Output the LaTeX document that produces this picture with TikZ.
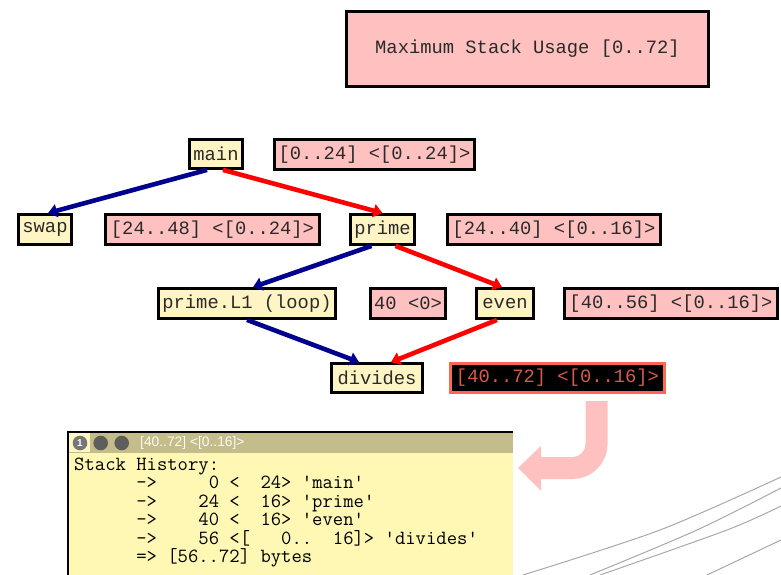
\documentclass[tikz,border=0pt]{standalone}
\usepackage{fontspec}
\newfontfamily\boxfont{Liberation Mono}
\newfontfamily\titlefont{Liberation Sans}
\usetikzlibrary{arrows.meta}
\definecolor{pinkfill}{HTML}{FFC0C0}
\definecolor{fnfill}{HTML}{FFF4C4}
\definecolor{txtgrey}{HTML}{2A2A2A}
\definecolor{callblue}{HTML}{00008E}
\definecolor{callred}{HTML}{FF0000}
\definecolor{hotborder}{HTML}{FF6656}
\definecolor{hottext}{HTML}{D65A48}
\definecolor{winbody}{HTML}{FFF8B4}
\definecolor{wintitle}{HTML}{C4BC8A}
\definecolor{wintab}{HTML}{FFF6C0}
\definecolor{dotgrey}{HTML}{5E5E5E}
\definecolor{decogrey}{HTML}{A8A8A8}
\begin{document}
\begin{tikzpicture}[x=1pt,y=-1pt,
  box/.style={draw=black, line width=2.8pt, inner sep=0pt,
    font=\boxfont\fontsize{18.8}{19}\selectfont, text=txtgrey},
  fn/.style={box, fill=fnfill},
  rng/.style={box, fill=pinkfill},
  hot/.style={box, fill=black, draw=hotborder, line width=2.8pt, text=hottext},
  callarrow/.style={line width=4.6pt, -{Triangle[length=9pt,width=13pt]}},
  bluecall/.style={callarrow, draw=callblue},
  redcall/.style={callarrow, draw=callred},
  histline/.style={anchor=base west, inner sep=0pt,
    font=\ttfamily\fontsize{20.1}{20.1}\selectfont, text=black},
  deco/.style={draw=decogrey, line width=1pt}
]
\useasboundingbox (0,0) rectangle (781,575);

% decorative lines
\draw[deco] plot[smooth] coordinates {(523,575) (660,530) (781,477)};
\draw[deco] plot[smooth] coordinates {(590,575) (697,530) (781,488)};
\draw[deco] plot[smooth] coordinates {(600,575) (727,530) (781,506)};
\draw[deco] plot[smooth] coordinates {(707,575) (781,540)};

% summary box
\node[rng, minimum width=362pt, minimum height=75pt] (maxbox) at (527.5,49) {Maximum Stack Usage [0..72]};

% function nodes and ranges
\node[fn, minimum width=53pt, minimum height=29pt] (main) at (216,154) {main};
\node[rng, minimum width=200pt, minimum height=30pt] (rmain) at (374.5,154.5) {[0..24] <[0..24]>};
\node[fn, minimum width=53pt, minimum height=30pt] (swap) at (45,229.5) {swap};
\node[rng, minimum width=214pt, minimum height=30pt] (rswap) at (212.5,229.5) {[24..48] <[0..24]>};
\node[fn, minimum width=64pt, minimum height=30pt] (prime) at (382.5,229.5) {prime};
\node[rng, minimum width=213pt, minimum height=30pt] (rprime) at (554,229.5) {[24..40] <[0..16]>};
\node[fn, minimum width=177pt, minimum height=30pt] (loop) at (247,303.5) {prime.L1 (loop)};
\node[rng, minimum width=75pt, minimum height=30pt] (rloop) at (408,303.5) {40 <0>};
\node[fn, minimum width=57pt, minimum height=30pt] (even) at (505,303.5) {even};
\node[rng, minimum width=213pt, minimum height=30pt] (reven) at (671,303.5) {[40..56] <[0..16]>};
\node[fn, minimum width=91pt, minimum height=29pt] (divides) at (377,378) {divides};
\node[hot, minimum width=214pt, minimum height=29pt] (rdiv) at (557.5,378) {[40..72] <[0..16]>};

% call edges
\draw[bluecall] ([xshift=-9pt]main.south) -- ([xshift=3pt]swap.north);
\draw[redcall] ([xshift=7pt]main.south) -- ([xshift=0pt]prime.north);
\draw[bluecall] ([xshift=-11pt]prime.south) -- ([xshift=6pt]loop.north);
\draw[redcall] ([xshift=13pt]prime.south) -- ([xshift=-3pt]even.north);
\draw[bluecall] ([xshift=0pt]loop.south) -- ([xshift=-18pt]divides.north);
\draw[redcall] ([xshift=-8pt]even.south) -- ([xshift=14pt]divides.north);

% big pink turn arrow
\coordinate (turnstart) at (596.5,401);
\coordinate (turnend) at (540,468);
\draw[pinkfill, line width=22pt, rounded corners=24pt] (turnstart) -- (596.5,468) -- (turnend);
\fill[pinkfill] (541,446) -- (518,468) -- (541,491) -- cycle;

% window
\fill[winbody] (68,432) rectangle (513,575);
\fill[wintitle] (68,432) rectangle (513,452.5);
\fill[wintab] (69,433) rectangle (90,452);
\draw[black, line width=1.4pt] (68,575) -- (68,432) -- (513,432);
\fill[dotgrey!85] (80,443) circle (7.3pt);
\node[font=\titlefont\bfseries\fontsize{10}{10}\selectfont, text=white, inner sep=0pt] (one) at (80,443.5) {1};
\fill[dotgrey] (100.7,443) circle (7.3pt);
\fill[dotgrey] (121.7,443) circle (7.3pt);
\node[anchor=west, inner sep=0pt, font=\titlefont\fontsize{13.8}{13.8}\selectfont, text=white!92!wintitle] (wtitle) at (140,443) {[40..72] <[0..16]>};

\node[histline] (h0) at (74,470) {Stack History:};
\node[histline] (h1) at (74,488.5) {~~~~~~->~~~~~0~<~~24>~\textquotesingle main\textquotesingle};
\node[histline] (h2) at (74,507) {~~~~~~->~~~~24~<~~16>~\textquotesingle prime\textquotesingle};
\node[histline] (h3) at (74,525.5) {~~~~~~->~~~~40~<~~16>~\textquotesingle even\textquotesingle};
\node[histline] (h4) at (74,544) {~~~~~~->~~~~56~<[~~~0..~~16]>~\textquotesingle divides\textquotesingle};
\node[histline] (h5) at (74,562.5) {~~~~~~=>~[56..72]~bytes};
\end{tikzpicture}
\end{document}
